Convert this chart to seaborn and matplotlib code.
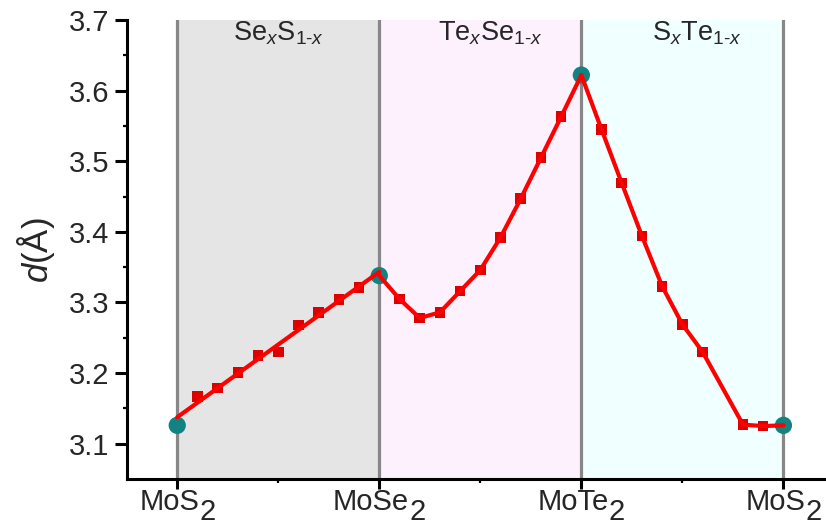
import numpy as np
import matplotlib
matplotlib.use("Agg")
import matplotlib.pyplot as plt
import seaborn as sns

# Interlayer distance d (Å) along the alloy path MoS2 -> MoSe2 -> MoTe2 -> MoS2
x_end = [0, 1, 2, 3]
d_end = [3.126, 3.338, 3.622, 3.126]

x_sese = [0.1, 0.2, 0.3, 0.4, 0.5, 0.6, 0.7, 0.8, 0.9]
d_sese = [3.167, 3.179, 3.201, 3.225, 3.230, 3.268, 3.286, 3.304, 3.321]

x_tese = [1.1, 1.2, 1.3, 1.4, 1.5, 1.6, 1.7, 1.8, 1.9]
d_tese = [3.305, 3.278, 3.286, 3.316, 3.346, 3.392, 3.447, 3.505, 3.563]

x_ste = [2.1, 2.2, 2.3, 2.4, 2.5, 2.6, 2.8, 2.9]
d_ste = [3.545, 3.469, 3.394, 3.323, 3.269, 3.230, 3.127, 3.125]

tick_base = ["MoS", "MoSe", "MoTe", "MoS"]
tick_sub = ["2", "2", "2", "2"]
region_labels = [r"Se$_{x}$S$_{1\text{-}x}$",
                 r"Te$_{x}$Se$_{1\text{-}x}$",
                 r"S$_{x}$Te$_{1\text{-}x}$"]

sns.set_style("ticks")
plt.rcParams["font.family"] = ["Liberation Sans", "DejaVu Sans"]
plt.rcParams["mathtext.fontset"] = "custom"
plt.rcParams["mathtext.rm"] = "Liberation Sans"
plt.rcParams["mathtext.it"] = "Liberation Sans:italic"
plt.rcParams["mathtext.bf"] = "Liberation Sans:bold"

fig = plt.figure(figsize=(8.26, 5.31), dpi=100)
ax = fig.add_axes([0.1534, 0.0979, 0.8562, 0.8644])

# shaded composition regions and boundaries
span_colors = ["#e5e5e5", "#fdf1fd", "#f0ffff"]
for i, c in enumerate(span_colors):
    ax.axvspan(x_end[i], x_end[i + 1], color=c, lw=0, zorder=0)
for xv in x_end:
    ax.axvline(xv, color="#878787", lw=2.3, zorder=1)

# Se_xS_1-x: linear fit through the branch
fx = np.array([x_end[0]] + x_sese + [x_end[1]])
fy = np.array([d_end[0]] + d_sese + [d_end[1]])
coef = np.polyfit(fx, fy, 1)
fit_x = np.array([x_end[0], x_end[1]])
sns.lineplot(x=fit_x, y=np.polyval(coef, fit_x), ax=ax, color="#ff0000",
             lw=3.0, zorder=5, sort=False, estimator=None)

# Te_xSe_1-x and S_xTe_1-x: connected points
for xs, ds, i in [(x_tese, d_tese, 1), (x_ste, d_ste, 2)]:
    lx = [x_end[i]] + xs + [x_end[i + 1]]
    ly = [d_end[i]] + ds + [d_end[i + 1]]
    sns.lineplot(x=lx, y=ly, ax=ax, color="#ff0000", lw=3.0, zorder=5,
                 sort=False, estimator=None)

sns.scatterplot(x=x_sese + x_tese + x_ste, y=d_sese + d_tese + d_ste, ax=ax,
                marker="s", s=58, color="#dd0000", edgecolor="none",
                linewidth=0, zorder=4)
sns.scatterplot(x=x_end, y=d_end, ax=ax, marker="o", s=155, color="#138282",
                edgecolor="none", linewidth=0, zorder=3)

ax.set_xlim(-0.25, 3.25)
ax.set_ylim(3.05, 3.7)
ax.set_xticks(x_end)
ax.set_xticks([0.5, 1.5, 2.5], minor=True)
ax.set_xticklabels([])
ax.set_yticks(np.round(np.arange(3.1, 3.71, 0.1), 2))
ax.set_yticks(np.round(np.arange(3.15, 3.66, 0.1), 2), minor=True)
ax.set_yticklabels([f"{v:.1f}" for v in np.arange(3.1, 3.71, 0.1)])
ax.set_xlabel("")
ax.set_ylabel("")

for side in ["top", "right"]:
    ax.spines[side].set_visible(False)
for side in ["left", "bottom"]:
    ax.spines[side].set_linewidth(2.2)
    ax.spines[side].set_color("black")
ax.tick_params(which="major", direction="out", length=7, width=2.2,
               color="black", labelsize=21, pad=5)
ax.tick_params(axis="y", which="major", length=8.5, pad=4)
ax.tick_params(which="minor", direction="out", length=3.2, width=1.6,
               color="black")

ax.text(-0.128, 0.499, r"$d$(Å)", transform=ax.transAxes, rotation=90,
        ha="center", va="center", fontsize=25)

# region labels
for xpos, lab in zip([0.5, 1.55, 2.57], region_labels):
    ax.text(xpos, 3.671, lab, ha="center", va="baseline", fontsize=19.5,
            zorder=6)

# x tick labels with full-size, lowered subscripts
fig.canvas.draw()
renderer = fig.canvas.get_renderer()
to_pt = 72.0 / fig.dpi
for xv, base, sub in zip(x_end, tick_base, tick_sub):
    t1 = ax.annotate(base, xy=(xv, 0), xycoords=("data", "axes fraction"),
                     xytext=(0, -22.5), textcoords="offset points",
                     ha="left", va="baseline", fontsize=21,
                     annotation_clip=False)
    t2 = ax.annotate(sub, xy=(xv, 0), xycoords=("data", "axes fraction"),
                     xytext=(0, -29.5), textcoords="offset points",
                     ha="left", va="baseline", fontsize=21,
                     annotation_clip=False)
    w1 = t1.get_window_extent(renderer).width * to_pt
    w2 = t2.get_window_extent(renderer).width * to_pt
    x0 = -(w1 + w2) / 2.0
    t1.xyann = (x0, -22.5)
    t2.xyann = (x0 + w1, -29.5)

fig.savefig("out.png", dpi=100)
